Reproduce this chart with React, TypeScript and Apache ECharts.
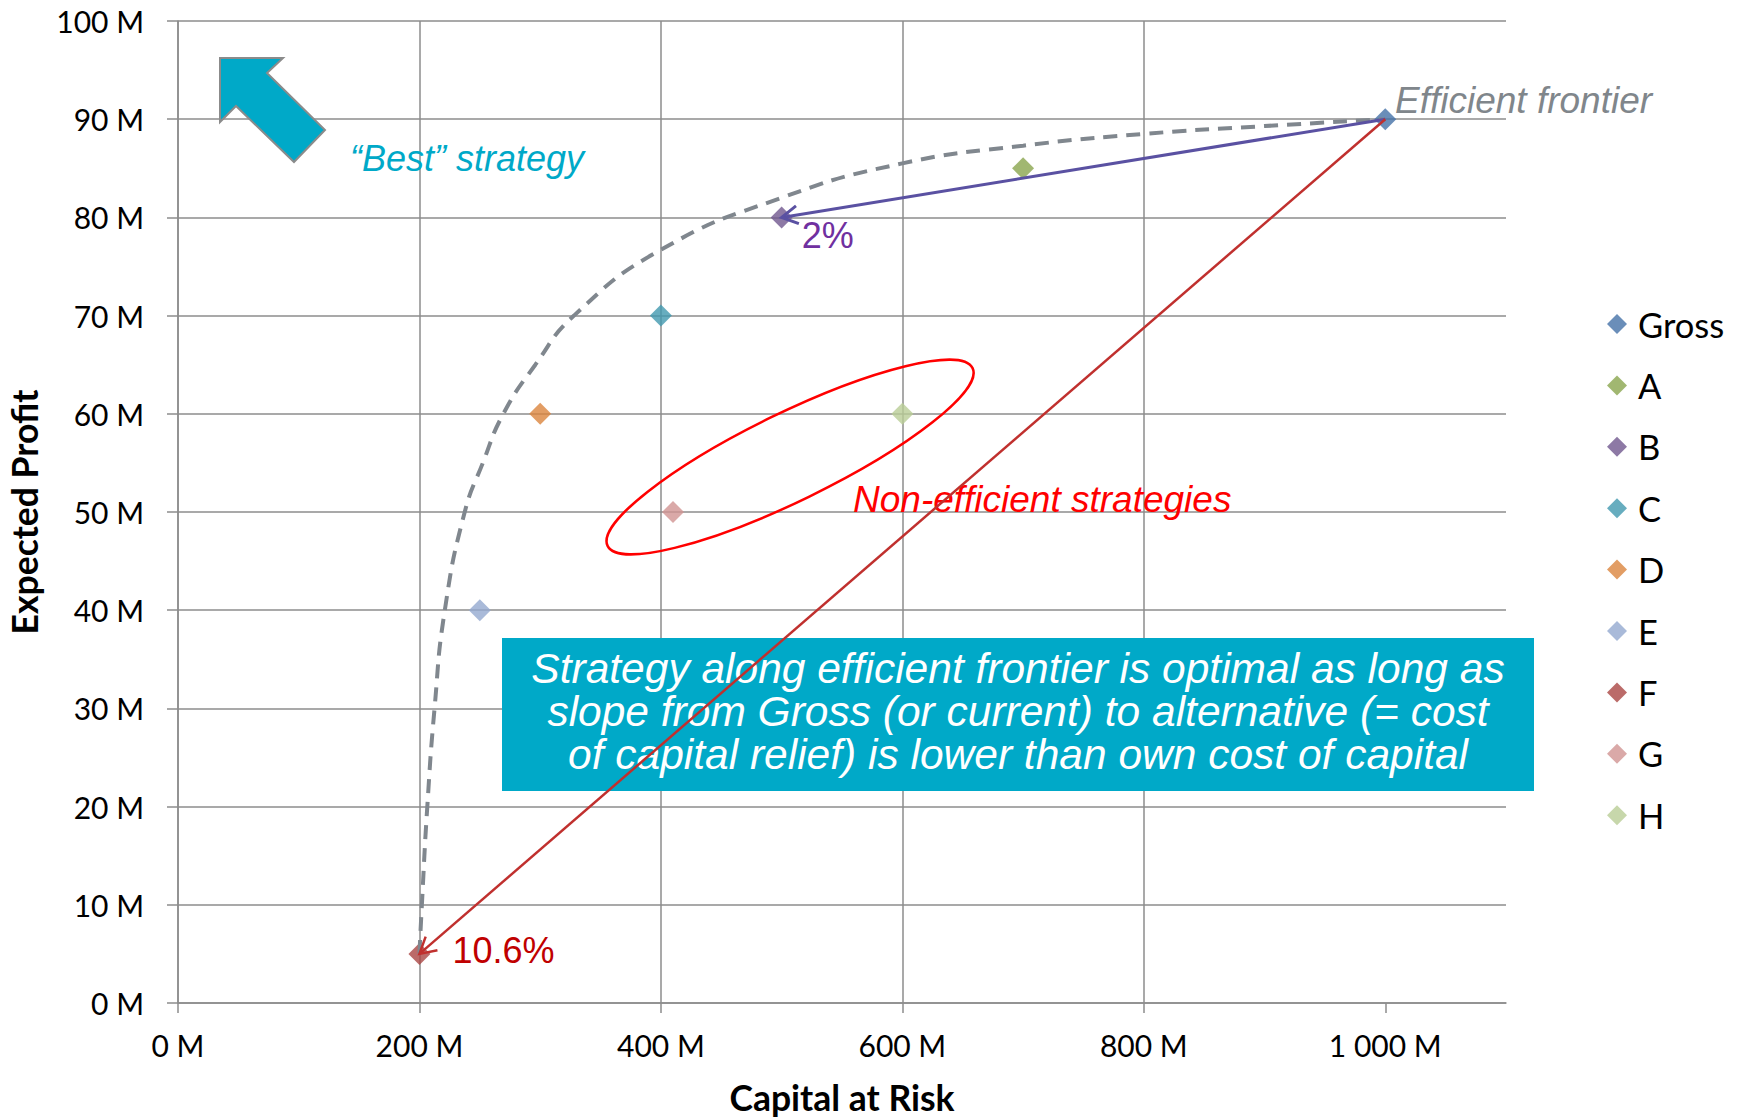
import { useEffect, useRef } from 'react';
import * as echarts from 'echarts';

// Strategies: capital at risk (M) vs expected profit (M)
const strategyNames = ['Gross', 'A', 'B', 'C', 'D', 'E', 'F', 'G', 'H'];
const capitalAtRisk = [1000, 700, 500, 400, 300, 250, 200, 410, 600];
const expectedProfit = [90, 85, 80, 70, 60, 40, 5, 50, 60];
const strategyColors = ['#4572A7', '#89A54E', '#71588F', '#4198AF', '#DB843D', '#93A9CF', '#AA4643', '#D19392', '#B9CD96'];

// Hand-traced efficient frontier
const frontierCapital = [200, 202, 206.5, 212.5, 221, 237.5, 252.5, 269.5, 296, 328, 400, 500, 600, 700, 800, 900, 1000];
const frontierProfit = [5, 10, 20, 30, 40, 50, 55, 60, 65, 70, 76.7, 82, 85.5, 87.3, 88.5, 89.3, 90];

// Capital relief arrows (from -> to); the label is the slope between them
const reliefFrom = ['Gross', 'Gross'];
const reliefTo = ['B', 'F'];
const reliefColors = ['#5A51A2', '#C0302E'];
const reliefLabelColors = ['#7030A0', '#C00000'];
const reliefLabelOffset = [[20, 18], [33, -3.5]];

// Axis ticks
const xTicks = [0, 200, 400, 600, 800, 1000];
const xMax = 1100;
const yTicks = [0, 10, 20, 30, 40, 50, 60, 70, 80, 90, 100];

// Annotations
const bestLabel = '\u201CBest\u201D strategy';
const frontierLabel = 'Efficient frontier';
const nonEfficientLabel = 'Non-efficient strategies';
const nonEfficientCenter = [507, 55.6];
const noteLines = [
  'Strategy along efficient frontier is optimal as long as',
  'slope from Gross (or current) to alternative (= cost',
  'of capital relief) is lower than own cost of capital',
];

const GRID = '#8C8C8C';
const CYAN = '#00A9C8';
const SANS = 'Lato';
const ANNOT = 'Liberation Sans';

const fmtM = (v: number) => String(v).replace(/\B(?=(\d{3})+(?!\d))/g, ' ') + ' M';
const fmtPct = (v: number) => String(+v.toFixed(1)) + '%';

export default function App() {
  const ref = useRef<HTMLDivElement>(null);

  useEffect(() => {
    const chart = echarts.init(ref.current!, undefined, { renderer: 'svg' });

    const idx = (n: string) => strategyNames.indexOf(n);
    const reliefData = reliefFrom.map((f, i) => {
      const a = idx(f);
      const b = idx(reliefTo[i]);
      return [capitalAtRisk[a], expectedProfit[a], capitalAtRisk[b], expectedProfit[b]];
    });

    const scatterSeries = strategyNames.map((name, i) => ({
      name,
      type: 'scatter',
      symbol: 'diamond',
      symbolSize: 22,
      itemStyle: { color: strategyColors[i] },
      emphasis: { disabled: true },
      data: [[capitalAtRisk[i], expectedProfit[i]]],
      z: 2,
    }));

    const option: any = {
      animation: false,
      backgroundColor: '#ffffff',
      textStyle: { fontFamily: SANS },
      grid: { left: 178, top: 21, right: 236, bottom: 116, containLabel: false, outerBoundsMode: 'none' },
      legend: {
        data: strategyNames,
        orient: 'vertical',
        left: 1607,
        top: 306,
        padding: 0,
        icon: 'diamond',
        itemWidth: 20,
        itemHeight: 20,
        itemGap: 25.4,
        selectedMode: false,
        textStyle: { fontFamily: SANS, fontSize: 34.5, color: '#000', lineHeight: 36, padding: [0, 0, 0, 6] },
      },
      xAxis: {
        type: 'value',
        min: 0,
        max: xMax,
        interval: 200,
        axisLine: { show: true, lineStyle: { color: GRID, width: 1.5 } },
        axisTick: { show: true, length: 10, lineStyle: { color: GRID, width: 1.5 }, customValues: xTicks },
        axisLabel: {
          customValues: xTicks,
          formatter: (v: number) => (v > 1000 ? '' : fmtM(v)),
          fontFamily: SANS,
          fontSize: 30,
          lineHeight: 30,
          color: '#000',
          margin: 27,
        },
        splitLine: { show: true, showMaxLine: false, lineStyle: { color: GRID, width: 1.5 } },
      },
      yAxis: {
        type: 'value',
        min: 0,
        max: 100,
        interval: 10,
        axisLine: { show: true, lineStyle: { color: GRID, width: 1.5 } },
        axisTick: { show: true, length: 11, lineStyle: { color: GRID, width: 1.5 }, customValues: yTicks },
        axisLabel: {
          customValues: yTicks,
          formatter: (v: number) => fmtM(v),
          fontFamily: SANS,
          fontSize: 30,
          lineHeight: 30,
          color: '#000',
          margin: 34,
        },
        splitLine: { show: true, lineStyle: { color: GRID, width: 1.5 } },
      },
      series: [
        ...scatterSeries,
        {
          name: frontierLabel,
          type: 'line',
          smooth: 0.5,
          symbol: 'none',
          silent: true,
          z: 3,
          lineStyle: { color: '#80878E', width: 4, type: [14, 9] },
          data: frontierCapital.map((x, i) => [x, frontierProfit[i]]),
        },
        {
          name: 'Capital relief',
          type: 'custom',
          silent: true,
          z: 4,
          encode: { x: [0, 2], y: [1, 3] },
          data: reliefData,
          renderItem: (params: any, api: any) => {
            const i = params.dataIndex;
            const x1 = api.value(0), y1 = api.value(1), x2 = api.value(2), y2 = api.value(3);
            const p1 = api.coord([x1, y1]);
            const p2 = api.coord([x2, y2]);
            const dx = p2[0] - p1[0], dy = p2[1] - p1[1];
            const len = Math.hypot(dx, dy);
            const ux = dx / len, uy = dy / len;
            const nx = -uy, ny = ux;
            const back = 16, side = 9;
            const w1 = [p2[0] - ux * back + nx * side, p2[1] - uy * back + ny * side];
            const w2 = [p2[0] - ux * back - nx * side, p2[1] - uy * back - ny * side];
            const slope = ((y1 - y2) / (x1 - x2)) * 100;
            const color = reliefColors[i];
            const lw = i === 0 ? 3 : 2.5;
            return {
              type: 'group',
              children: [
                { type: 'line', shape: { x1: p1[0], y1: p1[1], x2: p2[0], y2: p2[1] }, style: { stroke: color, lineWidth: lw } },
                { type: 'polyline', shape: { points: [w1, p2, w2] }, style: { stroke: color, lineWidth: lw, fill: null } },
                {
                  type: 'text',
                  x: p2[0] + reliefLabelOffset[i][0],
                  y: p2[1] + reliefLabelOffset[i][1],
                  style: {
                    text: fmtPct(slope),
                    fill: reliefLabelColors[i],
                    fontFamily: ANNOT,
                    fontSize: 36,
                    align: 'left',
                    verticalAlign: 'middle',
                  },
                },
              ],
            };
          },
        },
      ],
    };

    chart.setOption(option);

    const c = chart.convertToPixel({ gridIndex: 0 }, nonEfficientCenter) as number[];

    chart.setOption({
      graphic: [
        {
          type: 'rect',
          z: 1,
          silent: true,
          shape: { x: 502, y: 638, width: 1032, height: 153 },
          style: { fill: CYAN },
        },
        {
          type: 'text',
          z: 1,
          silent: true,
          x: 1018,
          y: 711,
          style: {
            text: noteLines.join('\n'),
            fill: '#ffffff',
            fontFamily: ANNOT,
            fontStyle: 'italic',
            fontSize: 42.5,
            lineHeight: 43,
            align: 'center',
            verticalAlign: 'middle',
          },
        },
        {
          type: 'polygon',
          z: 1,
          silent: true,
          shape: { points: [[220, 58], [283, 58], [267, 73], [325, 130], [294, 162], [236, 106], [220, 122]] },
          style: { fill: CYAN, stroke: '#8B8B8B', lineWidth: 2 },
        },
        {
          type: 'text',
          z: 1,
          silent: true,
          x: 350,
          y: 158,
          style: { text: bestLabel, fill: CYAN, fontFamily: ANNOT, fontStyle: 'italic', fontSize: 36, align: 'left', verticalAlign: 'middle' },
        },
        {
          type: 'text',
          z: 1,
          silent: true,
          x: 1395,
          y: 100.5,
          style: { text: frontierLabel, fill: '#80868B', fontFamily: ANNOT, fontStyle: 'italic', fontSize: 37, align: 'left', verticalAlign: 'middle' },
        },
        {
          type: 'text',
          z: 1,
          silent: true,
          x: 853,
          y: 499.5,
          style: { text: nonEfficientLabel, fill: '#FF0000', fontFamily: ANNOT, fontStyle: 'italic', fontSize: 37, align: 'left', verticalAlign: 'middle' },
        },
        {
          type: 'ellipse',
          z: 5,
          silent: true,
          x: c[0],
          y: c[1],
          rotation: (26 * Math.PI) / 180,
          shape: { cx: 0, cy: 0, rx: 203, ry: 44 },
          style: { fill: 'none', stroke: '#FF0000', lineWidth: 2.5 },
        },
        {
          type: 'text',
          silent: true,
          x: 24,
          y: 512,
          rotation: Math.PI / 2,
          style: { text: 'Expected Profit', fill: '#000', fontFamily: SANS, fontWeight: 'bold', fontSize: 35.5, align: 'center', verticalAlign: 'middle' },
        },
        {
          type: 'text',
          silent: true,
          x: 842,
          y: 1097,
          style: { text: 'Capital at Risk', fill: '#000', fontFamily: SANS, fontWeight: 'bold', fontSize: 35.5, align: 'center', verticalAlign: 'middle' },
        },
      ],
    });

    return () => chart.dispose();
  }, []);

  return (
    <div
      ref={ref}
      style={{ position: 'absolute', left: 0, top: 0, width: 1742, height: 1119, background: '#ffffff' }}
    />
  );
}
